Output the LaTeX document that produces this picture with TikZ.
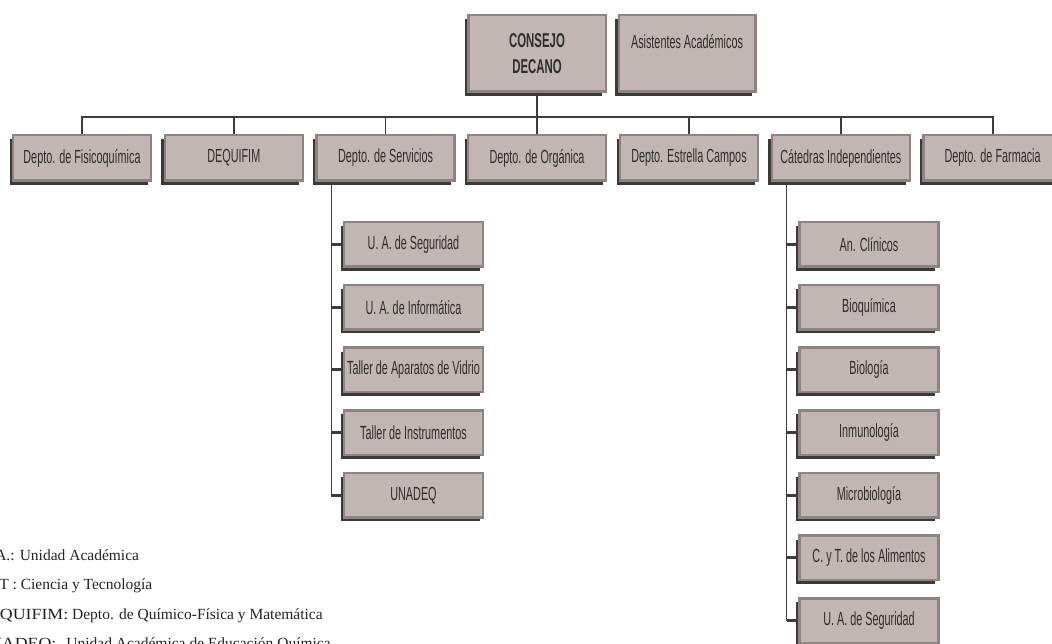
\documentclass[tikz,border=0pt]{standalone}
\usepackage{fontspec}
\setmainfont{Liberation Serif}
\newfontfamily\boxfont[FakeStretch=0.57]{Liberation Sans}
\usetikzlibrary{shadows}
\definecolor{boxfill}{HTML}{C1B6B3}
\definecolor{boxline}{HTML}{8E8380}
\definecolor{shade}{HTML}{3A3A3A}
\definecolor{wire}{HTML}{3C3C3C}
\definecolor{txt}{HTML}{2E2E2E}
\definecolor{legendtxt}{HTML}{222222}
\begin{document}
\begin{tikzpicture}[x=1pt,y=-1pt,
  orgbox/.style={draw=boxline, line width=2.5pt, fill=boxfill,
    general shadow={fill=shade, shadow xshift=-3.5pt, shadow yshift=-4pt},
    minimum width=138pt, minimum height=45.5pt, inner sep=0pt,
    font=\boxfont\fontsize{19}{26}\selectfont, text=txt, align=center},
  topbox/.style={orgbox, minimum width=137.5pt, minimum height=76.5pt},
  childbox/.style={orgbox, minimum width=139pt, minimum height=44.5pt},
  bus/.style={draw=wire, line width=2.2pt},
  vline/.style={draw=wire, line width=1.5pt},
  tick/.style={draw=wire, line width=2.8pt},
  legend/.style={anchor=base west, inner sep=0pt, text=legendtxt,
    font=\fontsize{15.5}{18}\selectfont}]
\useasboundingbox (0,0) rectangle (1052,644);
\clip (0,0) rectangle (1052,644);

% top level
\node[topbox, font=\boxfont\fontsize{20}{26}\selectfont] (consejo) at (537,53.5)
  {\bfseries CONSEJO\\\bfseries DECANO};
\node[topbox, minimum width=136.5pt,
  label={[anchor=north, yshift=-20pt, inner sep=0pt, text=txt,
    font=\boxfont\fontsize{19}{22}\selectfont]north:Asistentes Académicos}]
  (asist) at (687,53.5) {};

% second row
\node[orgbox] (d1) at (82,158) {Depto. de Fisicoquímica};
\node[orgbox] (d2) at (233.8,158) {DEQUIFIM};
\node[orgbox] (d3) at (385.6,158) {Depto. de Servicios};
\node[orgbox] (d4) at (537,158) {Depto. de Orgánica};
\node[orgbox] (d5) at (689,158) {Depto. Estrella Campos};
\node[orgbox] (d6) at (840.8,158) {Cátedras Independientes};
\node[orgbox] (d7) at (992.6,158) {Depto. de Farmacia};

% bus
\coordinate (busy) at (0,117);
\draw[bus] (d1.north) -- (d1.north |- busy) -- (d7.north |- busy) -- (d7.north);
\draw[vline] (consejo.south) -- (d4.north);
\foreach \n in {d2,d3,d5,d6} \draw[vline] (\n.north) -- (\n.north |- busy);

% Servicios children
\node[childbox] (s1) at (413.5,244.5) {U. A. de Seguridad};
\node[childbox] (s2) at (413.5,307.2) {U. A. de Informática};
\node[childbox] (s3) at (413.5,369.8) {Taller de Aparatos de Vidrio};
\node[childbox] (s4) at (413.5,432.5) {Taller de Instrumentos};
\node[childbox] (s5) at (413.5,495.2) {UNADEQ};
\coordinate (sv) at ([xshift=16pt]d3.south west);
\draw[vline] (sv) |- (s5.west);
\foreach \n in {s1,s2,s3,s4,s5} \draw[tick] (\n.west -| sv) -- (\n.west);

% Catedras children
\node[childbox] (c1) at (869,244.5) {An. Clínicos};
\node[childbox] (c2) at (869,307.2) {Bioquímica};
\node[childbox] (c3) at (869,369.8) {Biología};
\node[childbox] (c4) at (869,432.5) {Inmunología};
\node[childbox] (c5) at (869,495.2) {Microbiología};
\node[childbox] (c6) at (869,557.8) {C. y T. de los Alimentos};
\node[childbox] (c7) at (869,620.5) {U. A. de Seguridad};
\coordinate (cv) at ([xshift=16pt]d6.south west);
\draw[vline] (cv) |- (c7.west);
\foreach \n in {c1,c2,c3,c4,c5,c6,c7} \draw[tick] (\n.west -| cv) -- (\n.west);

% legend
\node[legend] (l1) at (-20,560) {U.A.: Unidad Académica};
\node[legend] (l2) at (-19,589.5) {CyT : Ciencia y Tecnología};
\node[legend] (l3) at (-24,619) {\scalebox{1.15}[1]{DEQUIFIM:} Depto. de Químico-Física y Matemática};
\node[legend] (l4) at (-24,648.5) {\scalebox{1.15}[1]{UNADEQ:}\hspace{10pt}Unidad Académica de Educación Química};
\end{tikzpicture}
\end{document}
